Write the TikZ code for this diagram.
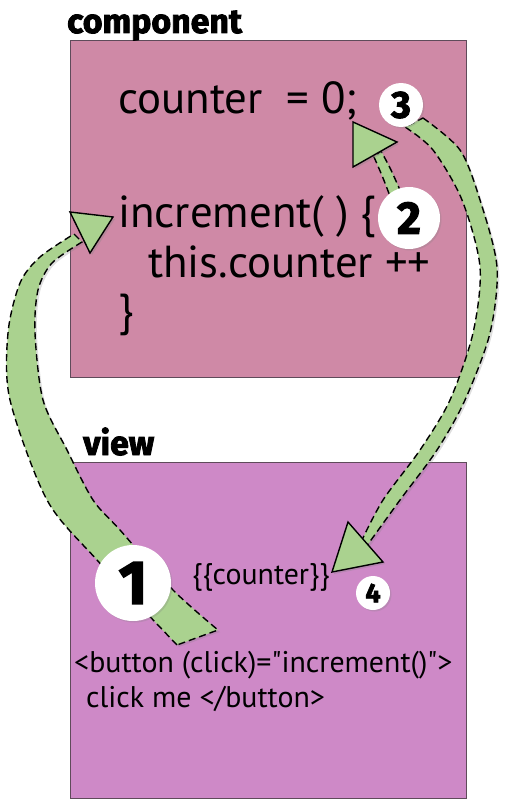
\documentclass[tikz,border=0pt]{standalone}
\usepackage{fontspec}
\setmainfont{PT Sans}[Ligatures=TeXOff]
\newfontfamily\headfont{Fira Sans}[FakeBold=2.5, Numbers=Lining]
\usetikzlibrary{shadows}

\begin{document}
\begin{tikzpicture}[x=1bp, y=-1bp,
	box/.style={draw=boxline, line width=0.8bp},
	band/.style={fill=arrowgreen, draw=black, dash pattern=on 7bp off 4bp, line width=1.4bp,
		drop shadow={opacity=.25, shadow xshift=2bp, shadow yshift=-2bp}},
	tip/.style={fill=arrowgreen, draw=black, line width=1.4bp, line join=miter,
		drop shadow={opacity=.3, shadow xshift=2bp, shadow yshift=-2bp}},
	num/.style={circle, fill=white, inner sep=0pt,
		drop shadow={opacity=.25, shadow xshift=1.5bp, shadow yshift=-1.5bp}},
	code/.style={anchor=base west, inner sep=0pt},
	head/.style={anchor=base west, inner sep=0pt, font=\headfont\bfseries\fontsize{34}{40}\selectfont}]
	\definecolor{boxline}{RGB}{95, 75, 90}
	\definecolor{compfill}{RGB}{207, 137, 166}
	\definecolor{viewfill}{RGB}{206, 137, 199}
	\definecolor{arrowgreen}{RGB}{170, 210, 143}
	\useasboundingbox (0, 0) rectangle (517, 800);
	
	% component box
	\filldraw[box, fill=compfill] (70, 40) rectangle (466, 377);
	\node[head] (comp) at (67, 33) {component};
	\node[code, font=\fontsize{45}{54}\selectfont] (cnt) at (118, 113) {counter\ \ = 0;};
	\node[code, font=\fontsize{45}{54}\selectfont] (inc) at (118, 227) {increment( ) \{};
	\node[code, font=\fontsize{45}{54}\selectfont] (plus) at (148, 277) {this.counter ++};
	\node[code, font=\fontsize{45}{54}\selectfont] (close) at (118, 325) {\}};
	
	% view box
	\filldraw[box, fill=viewfill] (70, 462) rectangle (466, 798);
	\node[head] (view) at (83, 455) {view};
	\node[code, font=\fontsize{30}{36}\selectfont] (tmpl) at (192, 584) {\{\{counter\}\}};
	\node[code, font=\fontsize{30}{36}\selectfont] (btn) at (74, 672) {<button (click)="increment()">};
	\node[code, font=\fontsize{30}{36}\selectfont] (lbl) at (86, 707) {click me </button>};
	
	% click -> increment
	\path[band] plot[smooth] coordinates {(177, 645) (97, 560) (47, 500) (10, 400) (8, 333) (20, 283) (40, 257) (74, 234)}
		-- plot[smooth] coordinates {(82, 242) (52, 263) (38, 290) (35, 333) (43, 400) (67, 450) (93, 500) (120, 530) (173, 590) (218, 630)} -- cycle;
	\draw[tip] (70, 212) -- (113, 217) -- (90, 253) -- cycle;
	
	% increment -> counter
	\path[band] plot[smooth] coordinates {(393, 204) (383, 178) (374, 157)}
		-- plot[smooth] coordinates {(381, 151) (391, 170) (403, 197)} -- cycle;
	\draw[tip] (353, 122) -- (397, 142) -- (353, 167) -- cycle;
	
	% counter -> template
	\path[band] plot[smooth] coordinates {(423, 118) (460, 150) (480, 200) (497, 267) (490, 333) (465, 400) (437, 450) (400, 500) (366, 547)}
		-- plot[smooth] coordinates {(361, 542) (383, 500) (420, 450) (450, 400) (473, 333) (480, 267) (462, 200) (433, 150) (405, 127)} -- cycle;
	\draw[tip] (348, 522) -- (383, 562) -- (332, 572) -- cycle;
	
	% step numbers
	\node[num, minimum size=76bp, font=\headfont\bfseries\fontsize{62}{64}\selectfont] (one) at (133, 583) {1};
	\node[num, minimum size=62bp, font=\headfont\bfseries\fontsize{46}{48}\selectfont] (two) at (409, 218) {2};
	\node[num, minimum size=44bp, font=\headfont\bfseries\fontsize{38}{40}\selectfont] (three) at (401, 105) {3};
	\node[num, minimum size=34bp, font=\headfont\bfseries\fontsize{27}{28}\selectfont] (four) at (373, 593) {4};
\end{tikzpicture}
\end{document}
